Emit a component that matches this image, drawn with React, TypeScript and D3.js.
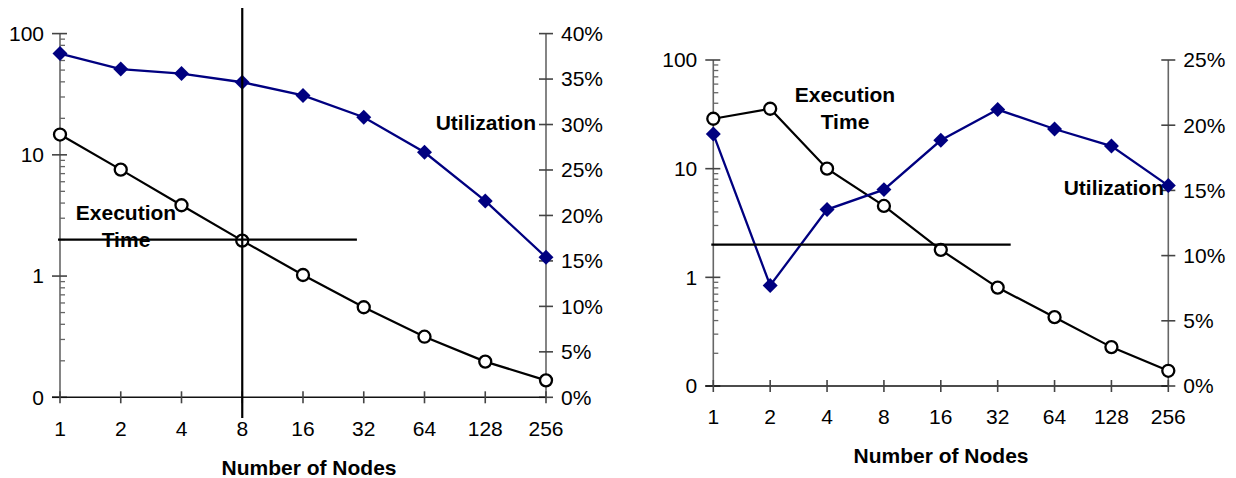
import React, { useEffect, useRef } from 'react';
import * as d3 from 'd3';

// x categories (number of nodes)
const nodes = [1, 2, 4, 8, 16, 32, 64, 128, 256];
const nodeLabels = ['1', '2', '4', '8', '16', '32', '64', '128', '256'];

// left chart
const execTimeA = [14.7, 7.55, 3.84, 1.96, 1.02, 0.553, 0.316, 0.197, 0.138];
const utilA = [37.8, 36.1, 35.6, 34.65, 33.2, 30.8, 26.95, 21.6, 15.4];

// right chart
const execTimeB = [28.8, 35.6, 10, 4.54, 1.79, 0.805, 0.43, 0.228, 0.138];
const utilB = [19.33, 7.71, 13.53, 15.06, 18.84, 21.2, 19.71, 18.4, 15.37];

// axis ticks
const timeTicks = [0.1, 1, 10, 100];
const timeTickLabels = ['0', '1', '10', '100'];
const utilTicksA = [0, 5, 10, 15, 20, 25, 30, 35, 40];
const utilTicksB = [0, 5, 10, 15, 20, 25];

const FONT = '"Liberation Sans", Arial, sans-serif';
const NAVY = '#000080';
const TICK_FS = '21px';
const LABEL_FS = '21px';

type Panel = {
  left: number; right: number; top: number; bottom: number;
  utilMax: number; utilTicks: number[];
  exec: number[]; util: number[];
  hLine: { value: number; toNode: number };
  vLine: { node: number; y1: number; y2: number } | null;
  execLabel: { x: number; y: number };
  utilLabel: { x: number; y: number; anchor: string };
  titleX: number;
};

const panels: Panel[] = [
  {
    left: 60, right: 546, top: 33.6, bottom: 397.3,
    utilMax: 40, utilTicks: utilTicksA,
    exec: execTimeA, util: utilA,
    hLine: { value: 2, toNode: 29.6 },
    vLine: { node: 8, y1: 8, y2: 418 },
    execLabel: { x: 126, y: 213 },
    utilLabel: { x: 536, y: 123, anchor: 'end' },
    titleX: 309,
  },
  {
    left: 713.3, right: 1168.3, top: 60, bottom: 386,
    utilMax: 25, utilTicks: utilTicksB,
    exec: execTimeB, util: utilB,
    hLine: { value: 2, toNode: 37.5 },
    vLine: null,
    execLabel: { x: 845, y: 94.3 },
    utilLabel: { x: 1164, y: 187.3, anchor: 'end' },
    titleX: 941,
  },
];

function drawPanel(svg: any, p: Panel) {
  const x = d3.scaleLog().base(2).domain([1, 256]).range([p.left, p.right]);
  const yT = d3.scaleLog().domain([0.1, 100]).range([p.bottom, p.top]);
  const yU = d3.scaleLinear().domain([0, p.utilMax]).range([p.bottom, p.top]);
  const g = svg.append('g').style('font-family', FONT);

  // left (log) axis
  g.append('line')
    .attr('x1', p.left).attr('x2', p.left)
    .attr('y1', p.top).attr('y2', p.bottom)
    .attr('stroke', '#666').attr('stroke-width', 1.6);
  const minor: number[] = [];
  [0.1, 1, 10].forEach(d => { for (let k = 2; k <= 9; k++) minor.push(d * k); });
  g.selectAll('.minor').data(minor).join('line')
    .attr('x1', p.left).attr('x2', p.left + 5)
    .attr('y1', d => yT(d)).attr('y2', d => yT(d))
    .attr('stroke', '#666').attr('stroke-width', 1.3);
  g.selectAll('.tmaj').data(timeTicks).join('line')
    .attr('x1', p.left - 8).attr('x2', p.left + 7)
    .attr('y1', d => yT(d)).attr('y2', d => yT(d))
    .attr('stroke', '#444').attr('stroke-width', 1.6);
  g.selectAll('.tlab').data(timeTicks).join('text')
    .attr('x', p.left - 16).attr('y', d => yT(d))
    .attr('dy', '0.35em').attr('text-anchor', 'end')
    .style('font-size', TICK_FS).attr('fill', '#000')
    .text((d, i) => timeTickLabels[i]);

  // right (utilization) axis
  g.append('line')
    .attr('x1', p.right).attr('x2', p.right)
    .attr('y1', p.top).attr('y2', p.bottom)
    .attr('stroke', '#666').attr('stroke-width', 1.6);
  g.selectAll('.umaj').data(p.utilTicks).join('line')
    .attr('x1', p.right - 7).attr('x2', p.right + 7)
    .attr('y1', d => yU(d)).attr('y2', d => yU(d))
    .attr('stroke', '#444').attr('stroke-width', 1.6);
  g.selectAll('.ulab').data(p.utilTicks).join('text')
    .attr('x', p.right + 15).attr('y', d => yU(d))
    .attr('dy', '0.35em').attr('text-anchor', 'start')
    .style('font-size', TICK_FS).attr('fill', '#000')
    .text(d => `${d}%`);

  // x axis
  g.append('line')
    .attr('x1', p.left - 8).attr('x2', p.right)
    .attr('y1', p.bottom).attr('y2', p.bottom)
    .attr('stroke', '#111').attr('stroke-width', 1.6);
  g.selectAll('.xt').data(nodes).join('line')
    .attr('x1', d => x(d)).attr('x2', d => x(d))
    .attr('y1', p.bottom - 6).attr('y2', p.bottom + 6)
    .attr('stroke', '#444').attr('stroke-width', 1.6);
  g.selectAll('.xl').data(nodes).join('text')
    .attr('x', d => x(d)).attr('y', p.bottom + 31)
    .attr('dy', '0.35em').attr('text-anchor', 'middle')
    .style('font-size', TICK_FS).attr('fill', '#000')
    .text((d, i) => nodeLabels[i]);
  g.append('text')
    .attr('x', p.titleX).attr('y', p.bottom + 70)
    .attr('dy', '0.35em').attr('text-anchor', 'middle')
    .style('font-size', LABEL_FS).style('font-weight', 'bold')
    .text('Number of Nodes');

  // annotation labels
  g.append('text')
    .attr('x', p.execLabel.x).attr('y', p.execLabel.y)
    .attr('dy', '0.35em').attr('text-anchor', 'middle')
    .style('font-size', LABEL_FS).style('font-weight', 'bold')
    .text('Execution');
  g.append('text')
    .attr('x', p.execLabel.x).attr('y', p.execLabel.y + 27)
    .attr('dy', '0.35em').attr('text-anchor', 'middle')
    .style('font-size', LABEL_FS).style('font-weight', 'bold')
    .text('Time');
  g.append('text')
    .attr('x', p.utilLabel.x).attr('y', p.utilLabel.y)
    .attr('dy', '0.35em').attr('text-anchor', p.utilLabel.anchor)
    .style('font-size', LABEL_FS).style('font-weight', 'bold')
    .text('Utilization');

  // execution time series
  const execLine = d3.line<number>()
    .x((d, i) => x(nodes[i]))
    .y(d => yT(d));
  g.append('path').datum(p.exec)
    .attr('d', execLine)
    .attr('fill', 'none').attr('stroke', '#000').attr('stroke-width', 2.2);
  g.selectAll('.ec').data(p.exec).join('circle')
    .attr('cx', (d, i) => x(nodes[i])).attr('cy', d => yT(d))
    .attr('r', 6)
    .attr('fill', '#fff').attr('stroke', '#000').attr('stroke-width', 2.3);

  // utilization series
  const utilLine = d3.line<number>()
    .x((d, i) => x(nodes[i]))
    .y(d => yU(d));
  g.append('path').datum(p.util)
    .attr('d', utilLine)
    .attr('fill', 'none').attr('stroke', NAVY).attr('stroke-width', 2.3);
  const diamond = d3.symbol().type(d3.symbolSquare).size(112);
  g.selectAll('.ud').data(p.util).join('path')
    .attr('d', diamond)
    .attr('transform', (d, i) => `translate(${x(nodes[i])},${yU(d)}) rotate(45)`)
    .attr('fill', NAVY);

  // reference lines drawn on top
  g.append('line')
    .attr('x1', p.left - 2).attr('x2', x(p.hLine.toNode))
    .attr('y1', yT(p.hLine.value)).attr('y2', yT(p.hLine.value))
    .attr('stroke', '#000').attr('stroke-width', 2.2);
  if (p.vLine) {
    g.append('line')
      .attr('x1', x(p.vLine.node)).attr('x2', x(p.vLine.node))
      .attr('y1', p.vLine.y1).attr('y2', p.vLine.y2)
      .attr('stroke', '#000').attr('stroke-width', 2.2);
  }
}

const App = () => {
  const svgRef = useRef<SVGSVGElement>(null);

  useEffect(() => {
    if (!svgRef.current) return;
    const svg = d3.select(svgRef.current);
    svg.selectAll('*').remove();
    svg.append('rect').attr('width', 1236).attr('height', 478).attr('fill', '#fff');
    panels.forEach(p => drawPanel(svg, p));
  }, []);

  return (
    <svg
      ref={svgRef}
      width={1236}
      height={478}
      style={{ position: 'absolute', left: 0, top: 0, display: 'block' }}
    />
  );
};

export default App;
